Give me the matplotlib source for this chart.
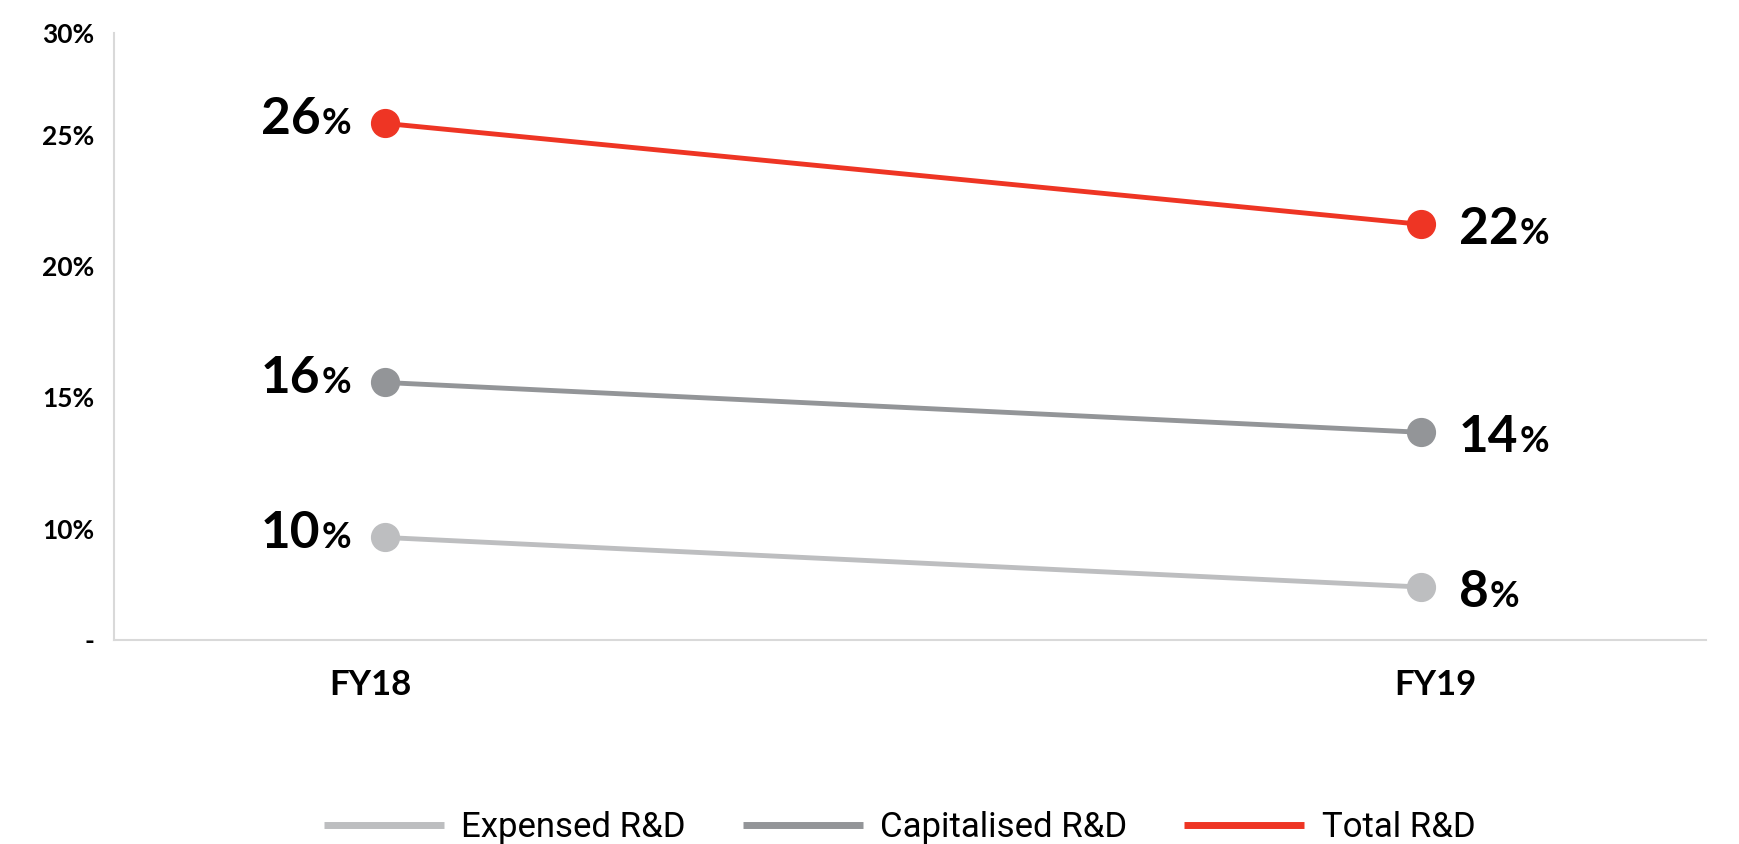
import matplotlib
matplotlib.use('Agg')
import matplotlib.pyplot as plt
from matplotlib.lines import Line2D

# ---- data ----
years = ['FY18', 'FY19']
expensed = [9.66, 7.77]
capitalised = [15.57, 13.67]
total = [25.45, 21.60]
expensed_labels = ['10', '8']
capitalised_labels = ['16', '14']
total_labels = ['26', '22']
series_names = ['Expensed R&D', 'Capitalised R&D', 'Total R&D']
ytick_values = [5.75, 10, 15, 20, 25, 28.9]
ytick_labels = ['-', '10%', '15%', '20%', '25%', '30%']

colors = ['#BDBEC0', '#939598', '#EE3524']
main_font = ['Lato', 'DejaVu Sans']
legend_font = ['Liberation Sans Narrow', 'Roboto', 'DejaVu Sans']

fig = plt.figure(figsize=(17.4, 8.44), dpi=100)
ax = fig.add_axes([0.0655, 0.2417, 0.915, 0.7193])

x = list(range(len(years)))
series = [expensed, capitalised, total]
labels = [expensed_labels, capitalised_labels, total_labels]
for vals, c in zip(series, colors):
    ax.plot(x, vals, color=c, lw=3.5, marker='o', ms=20, zorder=3,
            solid_capstyle='butt')

ax.set_xlim(-0.2616, 1.2751)
ax.set_ylim(5.75, 28.9)

ax.set_yticks(ytick_values)
ax.set_yticklabels(ytick_labels, fontfamily=main_font, fontweight='bold',
                   fontsize=19)
# category labels sit slightly outside the marker columns in the reference
label_spread = 0.014
ax.set_xticks([x[0] - label_spread, x[1] + label_spread])
ax.set_xticklabels(years, fontfamily=main_font, fontweight='bold', fontsize=25)
ax.tick_params(axis='y', length=0, pad=14)
ax.tick_params(axis='x', length=0, pad=21)

for s in ['top', 'right']:
    ax.spines[s].set_visible(False)
for s in ['left', 'bottom']:
    ax.spines[s].set_color('#D9D9D9')
    ax.spines[s].set_linewidth(1.5)

fig.canvas.draw()
renderer = fig.canvas.get_renderer()

def text_width(s, size):
    t = ax.text(0, 0, s, fontsize=size, fontweight='bold', fontfamily=main_font)
    w = t.get_window_extent(renderer).width
    t.remove()
    return w

NUM_SIZE = 37
PCT_SIZE = 26
for vals, labs in zip(series, labels):
    for xi, (v, lab) in enumerate(zip(vals, labs)):
        w_num = text_width(lab, NUM_SIZE)
        w_pct = text_width('%', PCT_SIZE)
        if xi == 0:
            dy = -11
            ax.annotate('%', xy=(xi, v), xytext=(-34, dy), textcoords='offset pixels',
                        ha='right', va='baseline', fontsize=PCT_SIZE,
                        fontweight='bold', fontfamily=main_font, color='black')
            ax.annotate(lab, xy=(xi, v), xytext=(-34 - w_pct - 1, dy),
                        textcoords='offset pixels', ha='right', va='baseline',
                        fontsize=NUM_SIZE, fontweight='bold', fontfamily=main_font,
                        color='black')
        else:
            dy = -20
            ax.annotate(lab, xy=(xi, v), xytext=(38, dy), textcoords='offset pixels',
                        ha='left', va='baseline', fontsize=NUM_SIZE,
                        fontweight='bold', fontfamily=main_font, color='black')
            ax.annotate('%', xy=(xi, v), xytext=(38 + w_num + 1, dy),
                        textcoords='offset pixels', ha='left', va='baseline',
                        fontsize=PCT_SIZE, fontweight='bold', fontfamily=main_font,
                        color='black')

handles = [Line2D([], [], color=c, lw=5, solid_capstyle='butt') for c in colors]
fig.legend(handles, series_names, loc='center', bbox_to_anchor=(0.517, 0.019),
           ncol=3, frameon=False, handlelength=3.45, handletextpad=0.5,
           columnspacing=1.65, borderpad=0,
           prop={'family': legend_font, 'size': 25})

fig.savefig('out.png', dpi=100)
